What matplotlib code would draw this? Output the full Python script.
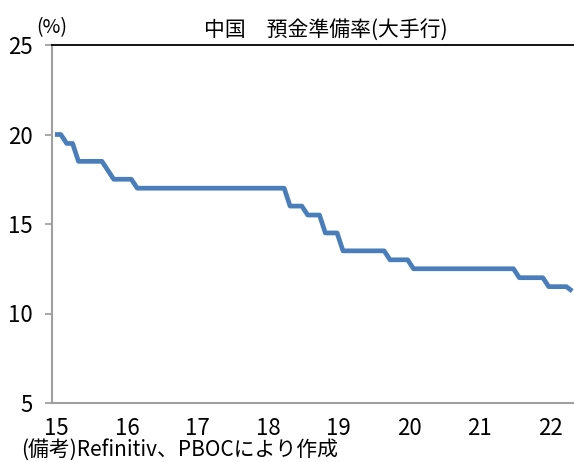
import matplotlib
matplotlib.use("Agg")
import matplotlib.pyplot as plt
import numpy as np

plt.rcParams['font.family'] = ['Noto Sans CJK JP', 'DejaVu Sans']
narrow = ['Liberation Sans Narrow', 'Noto Sans CJK JP', 'DejaVu Sans']

# Reserve requirement ratio for large banks (%), monthly, Jan 2015 - May 2022
rrr_2015 = [20.0, 20.0, 19.5, 19.5, 18.5, 18.5, 18.5, 18.5, 18.5, 18.0, 17.5, 17.5]
rrr_2016 = [17.5, 17.5, 17.0, 17.0, 17.0, 17.0, 17.0, 17.0, 17.0, 17.0, 17.0, 17.0]
rrr_2017 = [17.0, 17.0, 17.0, 17.0, 17.0, 17.0, 17.0, 17.0, 17.0, 17.0, 17.0, 17.0]
rrr_2018 = [17.0, 17.0, 17.0, 17.0, 16.0, 16.0, 16.0, 15.5, 15.5, 15.5, 14.5, 14.5]
rrr_2019 = [14.5, 13.5, 13.5, 13.5, 13.5, 13.5, 13.5, 13.5, 13.5, 13.0, 13.0, 13.0]
rrr_2020 = [13.0, 12.5, 12.5, 12.5, 12.5, 12.5, 12.5, 12.5, 12.5, 12.5, 12.5, 12.5]
rrr_2021 = [12.5, 12.5, 12.5, 12.5, 12.5, 12.5, 12.5, 12.0, 12.0, 12.0, 12.0, 12.0]
rrr_2022 = [11.5, 11.5, 11.5, 11.5, 11.25]

year_labels = ["15", "16", "17", "18", "19", "20", "21", "22"]
y_ticks = [5, 10, 15, 20, 25]

values = rrr_2015 + rrr_2016 + rrr_2017 + rrr_2018 + rrr_2019 + rrr_2020 + rrr_2021 + rrr_2022
months = np.arange(len(values))

fig = plt.figure(figsize=(5.74, 4.62), dpi=100)
ax = fig.add_axes([52 / 574, 1 - 403 / 462, 1 - 52 / 574, (403 - 45) / 462])

ax.plot(months, values, color="#4a7ebb", linewidth=3.4, solid_joinstyle="round",
        solid_capstyle="butt")

ax.set_xlim(-0.5, len(values) - 0.7)
ax.set_ylim(5, 25)

ax.set_yticks(y_ticks)
ax.set_yticklabels([str(v) for v in y_ticks], fontsize=16, family=narrow)
ax.set_xticks([12 * i + 0.3 for i in range(len(year_labels))])
ax.set_xticklabels(year_labels, fontsize=16, family=narrow)

ax.tick_params(axis="y", direction="out", length=5, width=1.3, color="#a0a0a0", pad=9)
ax.tick_params(axis="x", length=0, pad=10)

for side in ("left", "bottom"):
    ax.spines[side].set_color("#a0a0a0")
    ax.spines[side].set_linewidth(1.5)
ax.spines["right"].set_visible(False)
ax.spines["top"].set_color("black")
ax.spines["top"].set_linewidth(1.3)

fig.text(326 / 574, 1 - 30 / 462, "中国　預金準備率(大手行)", ha="center", va="center", fontsize=15)
fig.text(52 / 574, 1 - 28 / 462, "(%)", ha="center", va="center", fontsize=14)
fig.text(21 / 574, 1 - 450 / 462, "(備考)Refinitiv、PBOCにより作成", ha="left", va="center",
         fontsize=15, family=narrow)

fig.savefig("out.png", dpi=100)
